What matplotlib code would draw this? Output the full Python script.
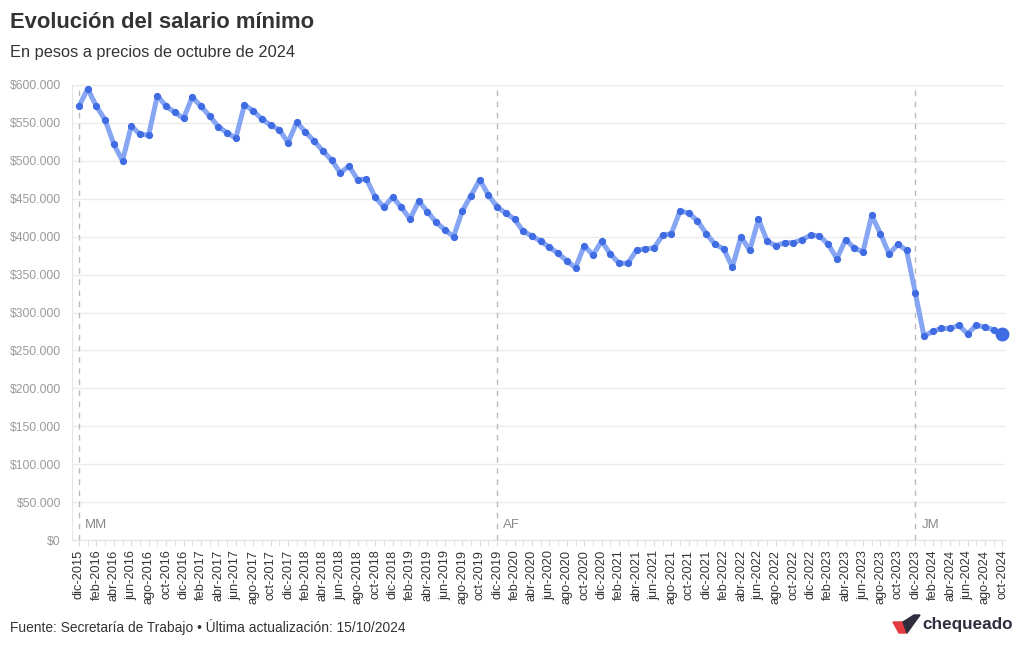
import matplotlib.pyplot as plt
from matplotlib.patches import Polygon
from matplotlib.ticker import FuncFormatter, MultipleLocator

plt.rcParams['font.family'] = ['Liberation Sans', 'DejaVu Sans']

# meses desde dic-2015 hasta oct-2024
meses = ["ene", "feb", "mar", "abr", "may", "jun", "jul", "ago", "sep", "oct", "nov", "dic"]
fechas = ["dic-2015"]
for anio in range(2016, 2025):
    for m in meses:
        fechas.append(m + "-" + str(anio))
        if anio == 2024 and m == "oct":
            break

# salario minimo en miles de pesos (oct-2024)
salario = [
    572, 595, 572, 554, 522, 500, 546, 535, 534, 586, 572, 564,
    556, 584, 572, 559, 545, 537, 530, 574, 566, 555, 547, 541,
    524, 551, 538, 526, 513, 501, 484, 493, 475, 476, 452, 439,
    452, 439, 423, 447, 433, 419, 409, 400, 434, 454, 475, 455,
    439, 431, 423, 407, 401, 394, 386, 378, 368, 359, 388, 376,
    394, 377, 365, 365, 382, 384, 385, 402, 404, 434, 431, 421,
    404, 390, 384, 360, 400, 382, 423, 394, 388, 392, 392, 396,
    402, 401, 390, 371, 396, 385, 380, 428, 404, 377, 390, 382,
    326, 269, 275, 279, 279, 283, 272, 283, 281, 277, 272,
]
salario = [v * 1000 for v in salario]

presidentes = ["MM", "AF", "JM"]
inicio_gob = ["dic-2015", "dic-2019", "dic-2023"]

x = list(range(len(fechas)))

fig = plt.figure(figsize=(10.2, 6.5), dpi=100)
ax = fig.add_axes([72 / 1020, 110 / 650, 933 / 1020, 455 / 650])

ax.plot(x, salario, color="#86a5f2", lw=3.6, solid_joinstyle="round", zorder=3)
ax.plot(x, salario, "o", color="#3f6be3", ms=4.2, zorder=4)
ax.plot(x[-1], salario[-1], "o", color="#3f6be3", ms=9, zorder=5, clip_on=False)

for nombre, f in zip(presidentes, inicio_gob):
    i = fechas.index(f)
    ax.axvline(i, color="#bbbbbb", lw=1, ls=(0, (4, 4)), zorder=1)
    ax.text(i + 0.7, 12000, nombre, color="#8a8a8a", fontsize=9.5, va="bottom")

ax.set_ylim(0, 600000)
ax.set_xlim(-0.8, len(fechas) - 1 + 0.3)
ax.yaxis.set_major_locator(MultipleLocator(50000))
ax.yaxis.set_major_formatter(FuncFormatter(lambda v, p: "$" + f"{int(v):,}".replace(",", ".")))
ax.grid(axis="y", color="#ebebeb", lw=1)
ax.set_axisbelow(True)

ax.set_xticks(x[::2])
ax.set_xticklabels(fechas[::2], rotation=90, fontsize=9.2, color="#333333")
ax.set_xticks(x, minor=True)
ax.tick_params(axis="x", which="both", length=4, color="#dddddd", pad=3)
ax.tick_params(axis="y", length=0, labelsize=8.7, labelcolor="#9a9a9a", pad=8)

for s in ["top", "right"]:
    ax.spines[s].set_visible(False)
ax.spines["left"].set_color("#e5e5e5")
ax.spines["bottom"].set_color("#e5e5e5")

fig.text(10 / 1020, 1 - 22 / 650, "Evolución del salario mínimo", fontsize=15.8,
         fontweight="bold", color="#333333", va="center")
fig.text(10 / 1020, 1 - 53 / 650, "En pesos a precios de octubre de 2024", fontsize=11.8,
         color="#333333", va="center")
fig.text(10 / 1020, 1 - 627 / 650, "Fuente: Secretaría de Trabajo • Última actualización: 15/10/2024",
         fontsize=9.9, color="#333333", va="center")

# logo chequeado
px = lambda a, b: (a / 1020, 1 - b / 650)
fig.patches.append(Polygon([px(893, 622), px(903, 622), px(907, 633), px(899, 633)],
                           closed=True, color="#e23a3f", transform=fig.transFigure))
fig.patches.append(Polygon([px(903, 622), px(914, 615), px(920, 615), px(907, 633)],
                           closed=True, color="#2e2e3e", transform=fig.transFigure))
fig.text(922 / 1020, 1 - 625 / 650, "chequeado", fontsize=12.3, fontweight="bold",
         color="#2e2e3e", va="center")

plt.savefig("out.png", dpi=100)
